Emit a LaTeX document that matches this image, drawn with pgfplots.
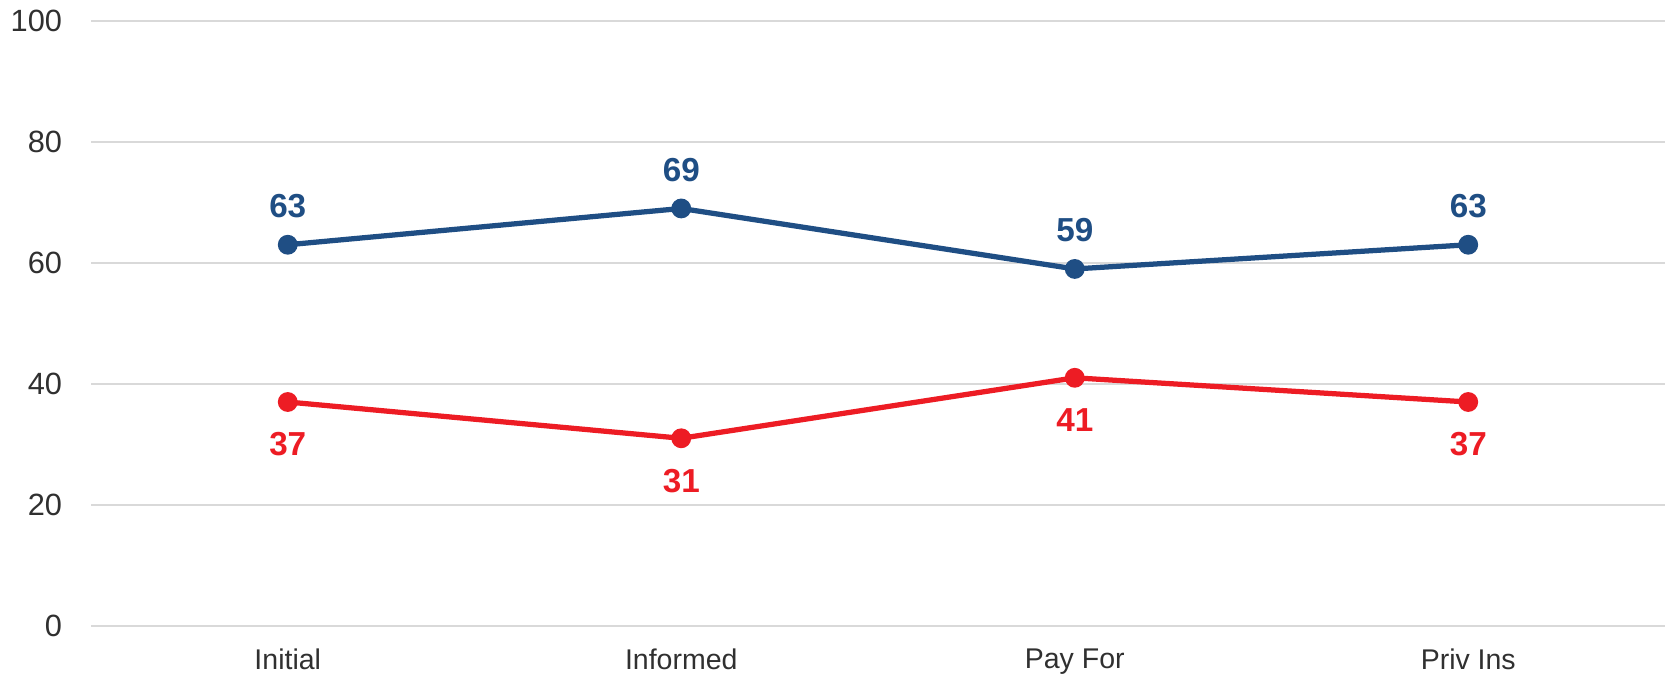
\documentclass[border=0pt]{standalone}
\usepackage{pgfplots}
\pgfplotsset{compat=1.18}
\usepackage{fontspec}
\setmainfont{Liberation Sans}
\definecolor{blueline}{HTML}{1F4E84}
\definecolor{redline}{HTML}{ED1C24}
\definecolor{gridc}{HTML}{D9D9D9}
\definecolor{txt}{HTML}{303030}
\begin{document}
\begin{tikzpicture}
\begin{axis}[
  scale only axis,
  width=629.6pt, height=241.9pt,
  xmin=-0.5, xmax=3.5, ymin=0, ymax=100,
  xtick={0,1,2,3},
  xticklabels={Initial,Informed,Pay For,Priv Ins},
  ytick={0,20,40,60,80,100},
  axis line style={draw=none},
  major tick length=0pt,
  ymajorgrids, grid style={gridc, line width=0.9pt},
  tick label style={text=txt},
  /pgf/number format/assume math mode=true,
  yticklabel style={font=\fontsize{12.3}{14}\selectfont, inner sep=0pt, anchor=east, xshift=-11.4pt},
  xticklabel style={font=\fontsize{11.4}{13}\selectfont, inner sep=0pt, anchor=north, yshift=-9.2pt},
  clip=false,
  nodes near coords,
  every node near coord/.append style={font=\bfseries\fontsize{13.3}{15}\selectfont, inner sep=0pt},
]
\addplot[blueline, line width=2.1pt, mark=*, mark size=2.9pt,
  every node near coord/.append style={text=blueline, anchor=south, yshift=9.6pt}]
  coordinates {(0,63) (1,69) (2,59) (3,63)};
\addplot[redline, line width=2.1pt, mark=*, mark size=2.9pt,
  every node near coord/.append style={text=redline, anchor=north, yshift=-11.2pt}]
  coordinates {(0,37) (1,31) (2,41) (3,37)};
\end{axis}
\pgfresetboundingbox
\path ([xshift=-36.4pt,yshift=-20.1pt]current axis.south west) rectangle ([xshift=2.4pt,yshift=8.4pt]current axis.north east);
\end{tikzpicture}
\end{document}
